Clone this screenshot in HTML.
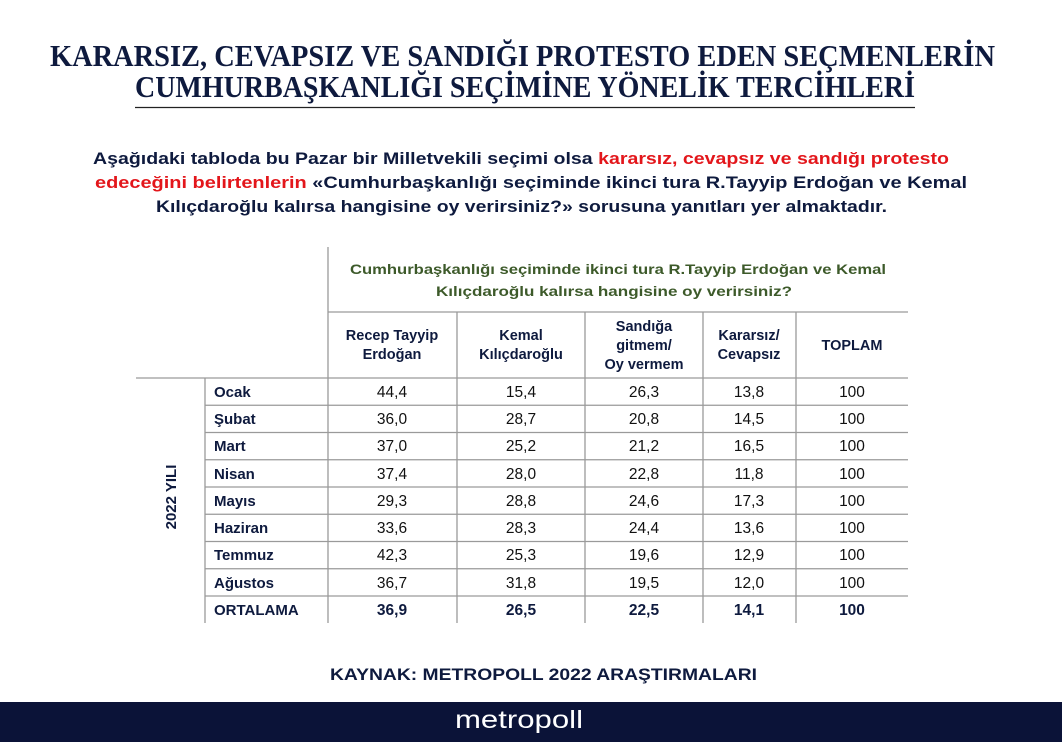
<!DOCTYPE html>
<html><head><meta charset="utf-8"><style>
html,body{margin:0;padding:0;background:#fff;}
svg{display:block;}
text{font-family:"Liberation Sans","DejaVu Sans",sans-serif;}
</style></head><body>
<svg width="1062" height="742" viewBox="0 0 1062 742" xmlns="http://www.w3.org/2000/svg">
<rect width="1062" height="742" fill="#fff"/>
<g fill="#0e1a3e" font-family="Liberation Serif, serif" font-weight="bold" font-size="31">
<text x="50" y="66" textLength="945" lengthAdjust="spacingAndGlyphs" style="font-family:'Liberation Serif',serif">KARARSIZ, CEVAPSIZ VE SANDIĞI PROTESTO EDEN SEÇMENLERİN</text>
<text x="135" y="97" textLength="780" lengthAdjust="spacingAndGlyphs" style="font-family:'Liberation Serif',serif">CUMHURBAŞKANLIĞI SEÇİMİNE YÖNELİK TERCİHLERİ</text>
</g>
<line x1="135" y1="107.5" x2="915" y2="107.5" stroke="#222" stroke-width="1.2"/>
<g font-weight="bold" font-size="17" fill="#0e1a3e">
<text x="93" y="164" textLength="856" lengthAdjust="spacingAndGlyphs">Aşağıdaki tabloda bu Pazar bir Milletvekili seçimi olsa <tspan fill="#e3161b">kararsız, cevapsız ve sandığı protesto</tspan></text>
<text x="95" y="188" textLength="872" lengthAdjust="spacingAndGlyphs"><tspan fill="#e3161b">edeceğini belirtenlerin</tspan> «Cumhurbaşkanlığı seçiminde ikinci tura R.Tayyip Erdoğan ve Kemal</text>
<text x="156" y="212" textLength="731" lengthAdjust="spacingAndGlyphs">Kılıçdaroğlu kalırsa hangisine oy verirsiniz?» sorusuna yanıtları yer almaktadır.</text>
</g>
<g font-weight="bold" font-size="14" fill="#3d5a2a">
<text x="350" y="274" textLength="536" lengthAdjust="spacingAndGlyphs">Cumhurbaşkanlığı seçiminde ikinci tura R.Tayyip Erdoğan ve Kemal</text>
<text x="436" y="296" textLength="356" lengthAdjust="spacingAndGlyphs">Kılıçdaroğlu kalırsa hangisine oy verirsiniz?</text>
</g>
<g stroke="#9a9a9a" stroke-width="1.3">
<line x1="328" y1="247" x2="328" y2="623"/>
<line x1="328" y1="312" x2="908" y2="312"/>
<line x1="136" y1="378" x2="908" y2="378"/>
<line x1="205" y1="378" x2="205" y2="623"/>
<line x1="457" y1="312" x2="457" y2="623"/>
<line x1="585" y1="312" x2="585" y2="623"/>
<line x1="703" y1="312" x2="703" y2="623"/>
<line x1="796" y1="312" x2="796" y2="623"/>
<line x1="205" y1="405.25" x2="908" y2="405.25"/>
<line x1="205" y1="432.5" x2="908" y2="432.5"/>
<line x1="205" y1="459.75" x2="908" y2="459.75"/>
<line x1="205" y1="487" x2="908" y2="487"/>
<line x1="205" y1="514.25" x2="908" y2="514.25"/>
<line x1="205" y1="541.5" x2="908" y2="541.5"/>
<line x1="205" y1="568.75" x2="908" y2="568.75"/>
<line x1="205" y1="596" x2="908" y2="596"/>
</g>
<g font-weight="bold" font-size="14.5" fill="#0e1a3e" text-anchor="middle">
<text x="392" y="340">Recep Tayyip</text><text x="392" y="359">Erdoğan</text>
<text x="521" y="340">Kemal</text><text x="521" y="359">Kılıçdaroğlu</text>
<text x="644" y="331">Sandığa</text><text x="644" y="350">gitmem/</text><text x="644" y="369">Oy vermem</text>
<text x="749" y="340">Kararsız/</text><text x="749" y="359">Cevapsız</text>
<text x="852" y="350">TOPLAM</text>
</g>
<text transform="translate(176,497) rotate(-90)" text-anchor="middle" font-weight="bold" font-size="15" fill="#0e1a3e">2022 YILI</text>
<g font-weight="bold" font-size="15" fill="#0e1a3e">
<text x="214" y="397">Ocak</text>
<text x="214" y="424">Şubat</text>
<text x="214" y="451">Mart</text>
<text x="214" y="479">Nisan</text>
<text x="214" y="506">Mayıs</text>
<text x="214" y="533">Haziran</text>
<text x="214" y="560">Temmuz</text>
<text x="214" y="588">Ağustos</text>
<text x="214" y="615">ORTALAMA</text>
</g>
<g font-size="15.5" fill="#111" text-anchor="middle">
<text x="392" y="397">44,4</text><text x="521" y="397">15,4</text><text x="644" y="397">26,3</text><text x="749" y="397">13,8</text><text x="852" y="397">100</text>
<text x="392" y="424">36,0</text><text x="521" y="424">28,7</text><text x="644" y="424">20,8</text><text x="749" y="424">14,5</text><text x="852" y="424">100</text>
<text x="392" y="451">37,0</text><text x="521" y="451">25,2</text><text x="644" y="451">21,2</text><text x="749" y="451">16,5</text><text x="852" y="451">100</text>
<text x="392" y="479">37,4</text><text x="521" y="479">28,0</text><text x="644" y="479">22,8</text><text x="749" y="479">11,8</text><text x="852" y="479">100</text>
<text x="392" y="506">29,3</text><text x="521" y="506">28,8</text><text x="644" y="506">24,6</text><text x="749" y="506">17,3</text><text x="852" y="506">100</text>
<text x="392" y="533">33,6</text><text x="521" y="533">28,3</text><text x="644" y="533">24,4</text><text x="749" y="533">13,6</text><text x="852" y="533">100</text>
<text x="392" y="560">42,3</text><text x="521" y="560">25,3</text><text x="644" y="560">19,6</text><text x="749" y="560">12,9</text><text x="852" y="560">100</text>
<text x="392" y="588">36,7</text><text x="521" y="588">31,8</text><text x="644" y="588">19,5</text><text x="749" y="588">12,0</text><text x="852" y="588">100</text>
<g font-weight="bold" fill="#0e1a3e">
<text x="392" y="615">36,9</text><text x="521" y="615">26,5</text><text x="644" y="615">22,5</text><text x="749" y="615">14,1</text><text x="852" y="615">100</text>
</g>
</g>
<text x="330" y="680" textLength="427" lengthAdjust="spacingAndGlyphs" font-weight="bold" font-size="17" fill="#0e1a3e">KAYNAK: METROPOLL 2022 ARAŞTIRMALARI</text>
<rect x="0" y="702" width="1062" height="40" fill="#0b1338"/>
<text x="519" y="728" text-anchor="middle" font-size="25" fill="#fff" textLength="128" lengthAdjust="spacingAndGlyphs">metropoll</text>
</svg>
</body></html>
